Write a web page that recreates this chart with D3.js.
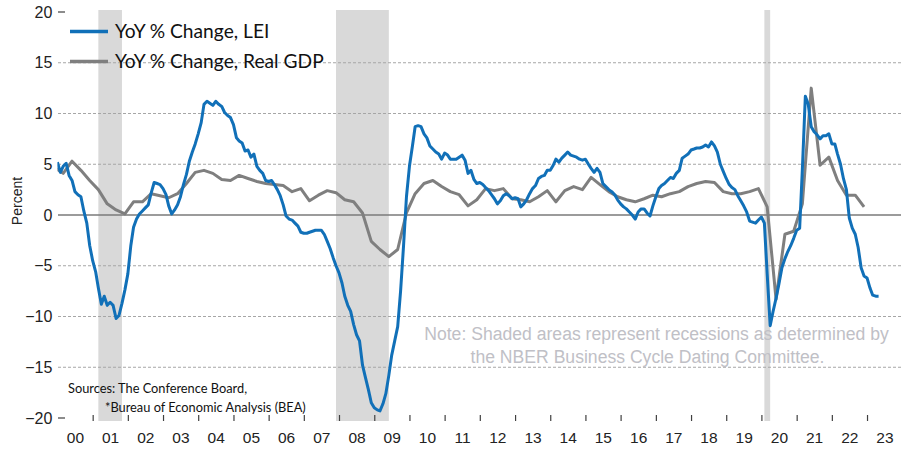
<!DOCTYPE html>
<html><head><meta charset="utf-8">
<script src="https://cdn.jsdelivr.net/npm/d3@7"></script>
<style>html,body{margin:0;padding:0;background:#fff;} svg{display:block;}</style>
</head><body><svg id="chart" width="901" height="450"></svg>
<script>
// ---- data ----
// LEI, year-over-year % change, monthly from Jan 2000
const leiValues = [
  5.2, 4.2, 4.8, 5.1, 3.9, 3.4, 2.3, 2.0, 1.8, 0.4, -0.8, -3.0,      // 2000
  -4.5, -5.6, -7.2, -8.8, -8.0, -8.9, -8.6, -8.9, -10.2, -9.9, -8.7, -7.4, // 2001
  -5.8, -3.0, -1.2, -0.4, 0.1, 0.4, 0.7, 1.0, 2.2, 3.2, 3.1, 3.0,    // 2002
  2.6, 2.0, 0.9, 0.1, 0.5, 1.0, 1.8, 3.0, 4.0, 5.3, 6.2, 7.0,        // 2003
  8.0, 9.1, 10.9, 11.2, 11.0, 10.8, 11.2, 10.9, 10.7, 10.1, 9.8, 9.6, // 2004
  8.9, 7.6, 7.3, 7.1, 6.3, 6.4, 5.7, 6.0, 4.8, 4.4, 4.1, 3.4,        // 2005
  3.3, 3.4, 3.0, 2.5, 1.9, 1.0, -0.1, -0.4, -0.5, -0.8, -1.1, -1.7,  // 2006
  -1.8, -1.8, -1.7, -1.6, -1.5, -1.5, -1.5, -1.9, -2.6, -3.3, -4.2, -5.0, // 2007
  -5.7, -6.7, -8.0, -8.9, -9.5, -10.8, -11.8, -12.4, -14.8, -16.0, -17.2, -18.5, // 2008
  -19.0, -19.2, -19.3, -18.6, -17.6, -15.8, -13.8, -12.4, -11.0, -7.5, -3.0, 1.8, // 2009
  4.8, 6.8, 8.7, 8.8, 8.7, 8.0, 7.6, 6.8, 6.5, 6.2, 6.0, 5.5,        // 2010
  6.1, 5.9, 5.5, 5.5, 5.5, 5.7, 5.9, 5.4, 4.1, 4.4, 3.5, 3.1,        // 2011
  3.2, 3.0, 2.7, 2.4, 2.0, 1.6, 1.1, 1.4, 1.9, 2.1, 1.9, 1.6,        // 2012
  1.7, 1.6, 0.8, 1.1, 1.5, 2.1, 2.6, 2.9, 3.6, 3.8, 3.9, 4.4,        // 2013
  4.4, 4.9, 5.5, 5.2, 5.6, 5.9, 6.2, 5.9, 5.8, 5.7, 5.5, 5.4,        // 2014
  5.5, 5.0, 4.6, 4.2, 4.6, 4.2, 3.1, 2.8, 2.5, 2.3, 2.0, 1.5,        // 2015
  1.1, 0.8, 0.6, 0.3, 0.0, -0.4, 0.3, 0.6, 0.6, 0.2, -0.1, 0.9,      // 2016
  1.8, 2.6, 2.9, 3.1, 3.4, 3.7, 3.6, 4.1, 4.4, 5.6, 5.8, 6.0,        // 2017
  6.4, 6.5, 6.6, 6.6, 6.7, 6.9, 6.7, 7.2, 6.8, 6.2, 5.0, 4.3,        // 2018
  3.6, 3.0, 2.7, 2.5, 1.9, 1.4, 0.9, 0.3, -0.6, -0.7, -0.8, -0.5,    // 2019
  -0.2, -0.8, -5.8, -10.9, -9.5, -8.2, -6.8, -5.2, -4.3, -3.6, -3.0, -2.3, // 2020
  -1.5, -1.3, 4.5, 11.7, 10.9, 8.7, 8.2, 7.9, 7.5, 7.8, 7.8, 8.0,    // 2021
  7.0, 7.0, 6.0, 5.0, 3.6, 2.5, -0.3, -1.3, -1.9, -3.2, -5.2, -6.0,  // 2022
  -6.2, -7.2, -7.9, -8.0, -8.0                                       // 2023
];
const leiStartYear = 2000;

// Real GDP, year-over-year % change, quarterly from 1999 Q4
const gdpValues = [
  4.7,                      // 1999 Q4
  4.1, 5.3, 4.4, 3.4,       // 2000
  2.5, 1.1, 0.5, 0.1,       // 2001
  1.3, 1.3, 2.1, 1.9,       // 2002
  1.7, 2.1, 3.1, 4.2,       // 2003
  4.4, 4.1, 3.5, 3.4,       // 2004
  3.9, 3.6, 3.3, 3.1,       // 2005
  3.0, 2.9, 2.3, 2.6,       // 2006
  1.4, 1.95, 2.4, 2.2,      // 2007
  1.5, 1.3, 0.2, -2.6,      // 2008
  -3.4, -4.1, -3.4, 0.2,    // 2009
  2.1, 3.1, 3.4, 2.8,       // 2010
  2.3, 2.0, 0.9, 1.5,       // 2011
  2.6, 2.4, 2.6, 1.6,       // 2012
  1.5, 1.3, 1.8, 2.4,       // 2013
  1.3, 2.4, 2.8, 2.5,       // 2014
  3.7, 3.0, 2.3, 1.8,       // 2015
  1.5, 1.3, 1.6, 1.95,      // 2016
  1.8, 2.1, 2.3, 2.8,       // 2017
  3.1, 3.3, 3.2, 2.3,       // 2018
  2.1, 2.1, 2.3, 2.6,       // 2019
  0.8, -8.3, -1.9, -1.6,    // 2020
  1.1, 12.5, 4.9, 5.7,      // 2021
  3.4, 1.95, 1.95, 0.8      // 2022
];
const gdpStartYear = 1999, gdpStartQuarter = 4;

// NBER recessions: [peak month, trough month]
const recessionStarts = ["2001-03", "2007-12", "2020-02"];
const recessionEnds   = ["2001-11", "2009-06", "2020-04"];

const yearLabels = ["00","01","02","03","04","05","06","07","08","09","10","11",
                    "12","13","14","15","16","17","18","19","20","21","22","23"];
const yTickValues = [20, 15, 10, 5, 0, -5, -10, -15, -20];
const seriesNames = ["YoY % Change, LEI", "YoY % Change, Real GDP"];
const seriesColors = ["#1170b8", "#7f7f7f"];
const noteLines = ["Note: Shaded areas represent recessions as determined by",
                   "the NBER Business Cycle Dating Committee."];
const sourceLines = ["Sources: The Conference Board,", "*Bureau of Economic Analysis (BEA)"];

// ---- chart ----
(function () {
const svg = d3.select("#chart");
const W = 901, H = 450;
const plotLeft = 57.4, plotRight = 902.2, plotTop = 12, plotBottom = 418;

const x = d3.scaleUtc()
  .domain([new Date(Date.UTC(2000, 0, 1)), new Date(Date.UTC(2024, 0, 1))])
  .range([plotLeft, plotRight]);
const y = d3.scaleLinear().domain([-20, 20]).range([plotBottom, plotTop]);

const parseMonth = d3.utcParse("%Y-%m");

// recession shading
svg.append("g").selectAll("rect")
  .data(recessionStarts.map((s, i) => [parseMonth(s), parseMonth(recessionEnds[i])]))
  .join("rect")
  .attr("x", d => x(d[0]))
  .attr("width", d => x(d[1]) - x(d[0]))
  .attr("y", 10)
  .attr("height", 411)
  .attr("fill", "#d9d9d9");

// grid lines
svg.append("g").selectAll("line")
  .data(yTickValues.filter(v => Math.abs(v) < 20 && v !== 0))
  .join("line")
  .attr("x1", 58).attr("x2", W)
  .attr("y1", d => y(d)).attr("y2", d => y(d))
  .attr("stroke", "#a6a6a6").attr("stroke-width", 1)
  .attr("stroke-dasharray", "3,2");
// short ticks at +/-20
svg.append("g").selectAll("line")
  .data(yTickValues.filter(v => Math.abs(v) === 20))
  .join("line")
  .attr("x1", 58).attr("x2", 65)
  .attr("y1", d => y(d)).attr("y2", d => y(d))
  .attr("stroke", "#404040").attr("stroke-width", 1.2);
// zero line
svg.append("line")
  .attr("x1", 58).attr("x2", W)
  .attr("y1", y(0)).attr("y2", y(0))
  .attr("stroke", "#7a7a7a").attr("stroke-width", 1.3);

// y axis labels
const yAxis = svg.append("g")
  .attr("transform", `translate(${plotLeft},0)`)
  .call(d3.axisLeft(y).tickValues(yTickValues).tickSize(0).tickPadding(5)
        .tickFormat(d3.format("d")));
yAxis.select(".domain").remove();
yAxis.selectAll("text")
  .attr("font-family", "'Liberation Sans', Arial, sans-serif")
  .attr("font-size", 16).attr("fill", "#222");

// x axis ticks (year boundaries)
const tickDates = d3.range(2001, 2024).map(yr => new Date(Date.UTC(yr, 0, 1)));
const xTicks = svg.append("g")
  .attr("transform", `translate(0,421)`)
  .call(d3.axisBottom(x).tickValues(tickDates).tickSizeInner(-6).tickSizeOuter(0)
        .tickFormat(""));
xTicks.select(".domain").remove();
xTicks.selectAll("line").attr("stroke", "#404040").attr("stroke-width", 1.2);

// x axis labels (mid-year)
const labelDates = yearLabels.map((l, i) => new Date(Date.UTC(2000 + i, 6, 1)));
const xLabels = svg.append("g")
  .attr("transform", `translate(0,${plotBottom})`)
  .call(d3.axisBottom(x).tickValues(labelDates).tickSize(0).tickPadding(14)
        .tickFormat((d, i) => yearLabels[i]));
xLabels.select(".domain").remove();
xLabels.selectAll("text")
  .attr("font-family", "'Liberation Sans', Arial, sans-serif")
  .attr("font-size", 15.5).attr("fill", "#222");

// y title
svg.append("text")
  .attr("transform", "translate(22,201) rotate(-90)")
  .attr("text-anchor", "middle")
  .attr("font-family", "'Liberation Sans', Arial, sans-serif")
  .attr("font-size", 14).attr("fill", "#222")
  .text("Percent");

// series
const leiData = leiValues.map((v, i) => ({ date: new Date(Date.UTC(leiStartYear, i, 1)), value: v }));
const gdpData = gdpValues.map((v, i) => ({
  date: new Date(Date.UTC(gdpStartYear, (gdpStartQuarter - 1) * 3 + 2 + 3 * i, 1)), value: v }));

svg.append("clipPath").attr("id", "plotclip")
  .append("rect").attr("x", plotLeft).attr("y", 0).attr("width", W - plotLeft).attr("height", H);

const line = d3.line().x(d => x(d.date)).y(d => y(d.value));
const plot = svg.append("g").attr("clip-path", "url(#plotclip)");
plot.append("path").datum(gdpData)
  .attr("d", line).attr("fill", "none")
  .attr("stroke", seriesColors[1]).attr("stroke-width", 3)
  .attr("stroke-linejoin", "round");
plot.append("path").datum(leiData)
  .attr("d", line).attr("fill", "none")
  .attr("stroke", seriesColors[0]).attr("stroke-width", 3)
  .attr("stroke-linejoin", "round");

// legend
const legendY = [31.5, 61.5];
const lg = svg.append("g");
seriesNames.forEach((name, i) => {
  lg.append("line").attr("x1", 70).attr("x2", 108)
    .attr("y1", legendY[i]).attr("y2", legendY[i])
    .attr("stroke", seriesColors[i]).attr("stroke-width", 3.5);
  lg.append("text").attr("x", 115).attr("y", legendY[i] + 6.5)
    .attr("font-family", "Lato, 'Open Sans', sans-serif")
    .attr("font-size", 19.2).attr("fill", "#111")
    .text(name);
});

// note
const noteX = [656.5, 647.5], noteY = [340, 363];
noteLines.forEach((t, i) => {
  svg.append("text").attr("x", noteX[i]).attr("y", noteY[i])
    .attr("text-anchor", "middle")
    .attr("font-family", "'Liberation Sans', Arial, sans-serif")
    .attr("font-size", 17.6).attr("fill", "#c0c0c6")
    .text(t);
});

// sources
const srcX = [68, 105], srcY = [393, 412];
sourceLines.forEach((t, i) => {
  svg.append("text").attr("x", srcX[i]).attr("y", srcY[i])
    .attr("font-family", "Lato, 'Open Sans', sans-serif")
    .attr("font-size", 12.8).attr("fill", "#111")
    .text(t);
});
})();
</script>
</body></html>
